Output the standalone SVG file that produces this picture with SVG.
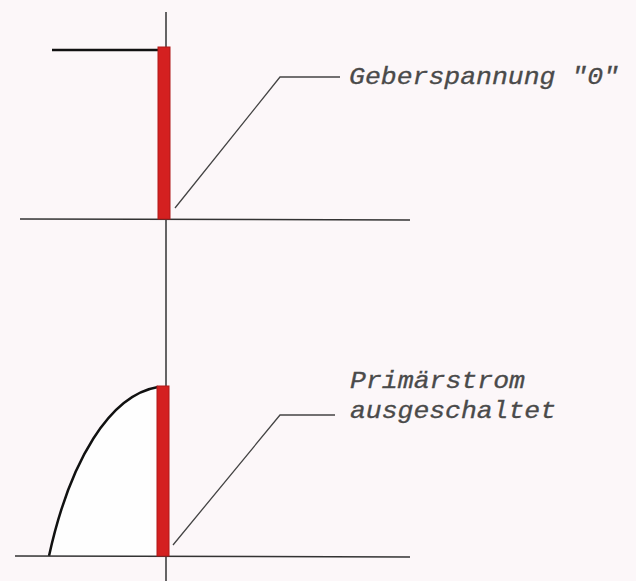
<svg xmlns="http://www.w3.org/2000/svg" width="636" height="581" viewBox="0 0 636 581">
<style>
.ax{stroke:#333;stroke-width:1.5;fill:none}
.ld{stroke:#444;stroke-width:1.3;fill:none}
.bar{fill:#d42020;stroke:#b01818;stroke-width:1}
.t{font-family:"Liberation Mono","Courier New",monospace;font-style:italic;font-size:23px;fill:#4a4a4a;stroke:#4a4a4a;stroke-width:0.3}
</style>
<rect width="636" height="581" fill="#fcf7f9"/>
<g id="top-diagram">
<line class="ax" x1="166" y1="12" x2="166" y2="240"/>
<line class="ax" x1="20" y1="219" x2="410" y2="220"/>
<line class="ax" x1="52" y1="50" x2="160" y2="50" style="stroke-width:2.5;stroke:#111"/>
<rect class="bar" x="158" y="47" width="12" height="172"/>
</g>
<g id="bottom-diagram">
<line class="ax" x1="166" y1="240" x2="166" y2="581"/>
<path d="M49,556 C70,460 110,395 158,387 L158,556 Z" fill="#fefefe" stroke="none"/>
<path d="M49,556 C70,460 110,395 158,387" fill="none" stroke="#111" stroke-width="2.5"/>
<line class="ax" x1="15" y1="556" x2="410" y2="557"/>
<rect class="bar" x="157" y="386" width="12" height="170"/>
</g>
<g id="connectors">
<polyline class="ld" points="175,208 280,77 340,77"/>
<polyline class="ld" points="173,545 280,415 335,415"/>
</g>
<g id="label-geber">
<text class="t" x="349" y="84" textLength="270" lengthAdjust="spacingAndGlyphs">Geberspannung "0"</text>
</g>
<g id="label-primaer">
<text class="t" x="350" y="388" textLength="175" lengthAdjust="spacingAndGlyphs">Primärstrom</text>
<text class="t" x="350" y="418" textLength="206" lengthAdjust="spacingAndGlyphs">ausgeschaltet</text>
</g>
</svg>
